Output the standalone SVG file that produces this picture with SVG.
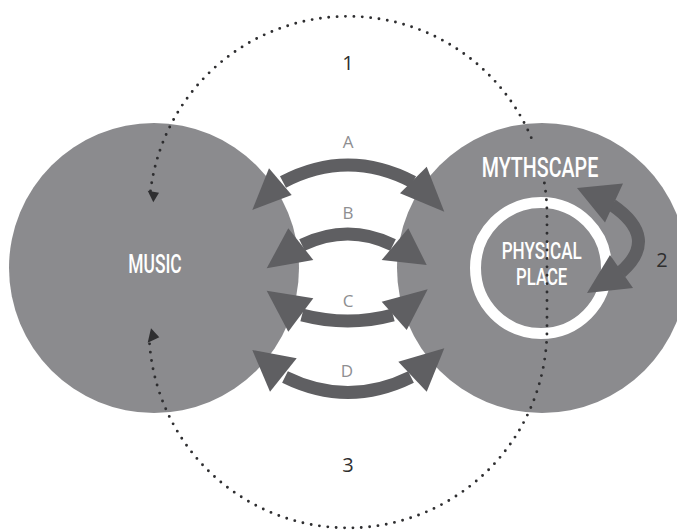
<svg xmlns="http://www.w3.org/2000/svg" width="677" height="530" viewBox="0 0 677 530">
<defs>
<style>
.circle{fill:#8b8b8e}
.ring{fill:none;stroke:#ffffff;stroke-width:11}
.shaft{fill:none;stroke:#5f5f62;stroke-width:13}
.head{fill:#5f5f62}
.lbl{font-family:"Open Sans","Liberation Sans",sans-serif;font-size:17px;fill:#8e8e91;text-anchor:middle}
.num{font-family:"Open Sans","Liberation Sans",sans-serif;font-size:20px;fill:#2e2e2e;text-anchor:middle}
.title{font-family:Roboto,"Liberation Sans",sans-serif;font-weight:500;fill:#ffffff}
.dots{fill:none;stroke:#2e2e30;stroke-width:2.9;stroke-linecap:round;stroke-dasharray:0 8.4}
.dhead{fill:#2e2e30}
</style>
</defs>
<rect x="0" y="0" width="677" height="530" fill="#ffffff"/>

<g id="music">
  <circle class="circle" cx="154" cy="268" r="145"/>
  <text class="title" x="128.3" y="272.7" font-size="26" textLength="53.4" lengthAdjust="spacingAndGlyphs">MUSIC</text>
</g>

<g id="mythscape">
  <circle class="circle" cx="542" cy="268" r="145"/>
  <text class="title" x="481.7" y="176.7" font-size="28" textLength="116.6" lengthAdjust="spacingAndGlyphs">MYTHSCAPE</text>
</g>

<g id="physical-place">
  <circle class="ring" cx="541" cy="268" r="65.5"/>
  <text class="title" x="501.7" y="259.3" font-size="23" textLength="80" lengthAdjust="spacingAndGlyphs">PHYSICAL</text>
  <text class="title" x="516" y="285" font-size="23" textLength="51.3" lengthAdjust="spacingAndGlyphs">PLACE</text>
</g>

<g id="connectors">
  <g id="arrow-A">
    <path class="shaft" d="M283,182 Q348,148 413,182"/>
    <polygon class="head" points="252.3,210 269,168.3 291.7,195"/>
    <polygon class="head" points="444.3,211.7 426.7,166.7 400,193.3"/>
  </g>
  <g id="arrow-B">
    <path class="shaft" d="M302,245 Q348,223 393,245"/>
    <polygon class="head" points="266.7,268.3 288.3,228.3 313.3,260"/>
    <polygon class="head" points="426.7,265 408.3,228.3 381.7,260"/>
  </g>
  <g id="arrow-C">
    <path class="shaft" d="M302,315 Q348,327 393,315"/>
    <polygon class="head" points="266.7,290.7 288.3,331.7 313.3,298.3"/>
    <polygon class="head" points="427.7,289.3 381.7,301.7 406.7,330"/>
  </g>
  <g id="arrow-D">
    <path class="shaft" d="M285,377 Q348,408 411,377"/>
    <polygon class="head" points="252.3,350 270,391.7 296.7,358.3"/>
    <polygon class="head" points="444.3,348.3 426.7,391.7 398.3,361.7"/>
  </g>
  <g id="arrow-2">
    <path class="shaft" d="M612,205 Q660,238 621,272"/>
    <polygon class="head" points="577,188 623,183.5 605,222.5"/>
    <polygon class="head" points="610,255 633,288 587,293"/>
  </g>
  <g id="loop">
    <path class="dots" d="M150.5,191 A199,199 0 0 1 533,142"/>
    <path class="dots" d="M544.4,183 A199,199 0 0 1 547,215 L547,329 A199,199 0 0 1 149.5,343"/>
    <polygon class="dhead" points="153.3,202.3 147.7,190.7 159,192.7"/>
    <polygon class="dhead" points="151,328.3 147.7,342.7 159.3,337.3"/>
  </g>
</g>

<g id="labels">
  <text class="lbl" x="348" y="148.3">A</text>
  <text class="lbl" x="348" y="219.3">B</text>
  <text class="lbl" x="348" y="306.7">C</text>
  <text class="lbl" x="347" y="376.7">D</text>
  <text class="num" x="348" y="70">1</text>
  <text class="num" x="662" y="267.3" font-size="18">2</text>
  <text class="num" x="348" y="471.7">3</text>
</g>
</svg>
